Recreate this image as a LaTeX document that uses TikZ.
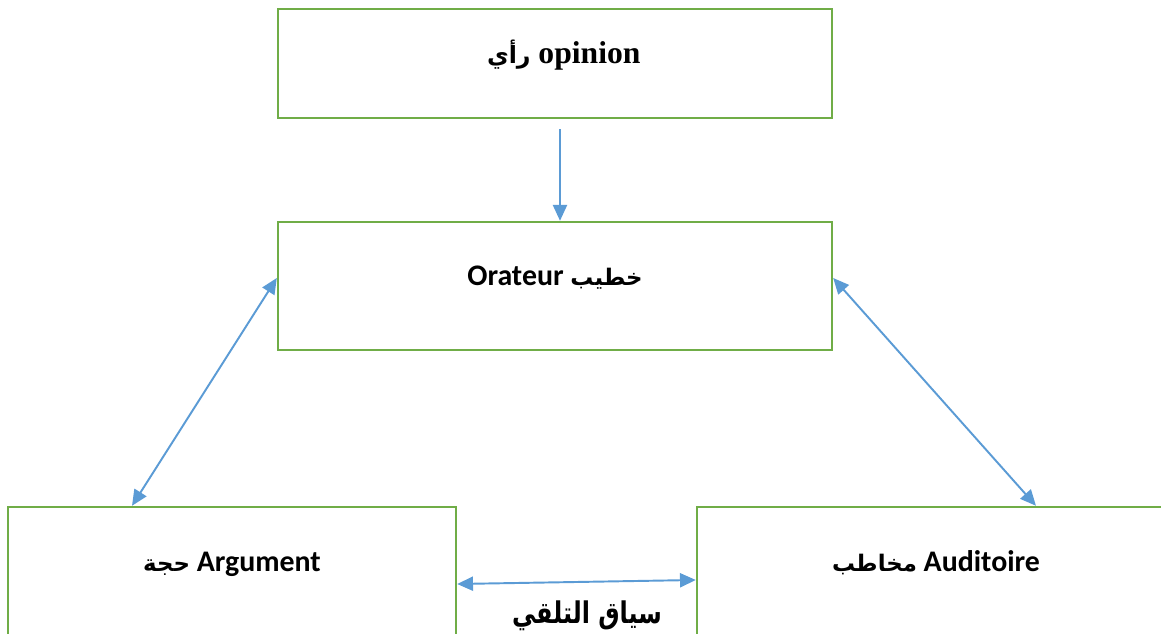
\documentclass[tikz,border=0pt]{standalone}
\usepackage{fontspec}
\setmainfont{Liberation Serif}
\newfontfamily\latinsans{Carlito}
\newfontfamily\arabicfont[Script=Arabic]{DejaVu Sans}
\TeXXeTstate=1
\usetikzlibrary{arrows.meta}
\definecolor{boxgreen}{HTML}{70AD47}
\definecolor{linkblue}{HTML}{5B9BD5}
\newcommand{\ar}[1]{{\arabicfont\fontsize{13}{15}\selectfont\beginR #1\endR}}
\tikzset{>={Triangle[length=9pt,width=8pt]}, % filled tips like the original
box/.style={draw=boxgreen, line width=1.4pt, text height=2mm, text depth=2mm,
    font=\latinsans\bfseries\fontsize{17}{20}\selectfont}, % green framed boxes
link/.style={color=linkblue, line width=1.1pt}, % blue connectors
wide/.style={minimum width=11.08cm}, % the two upper boxes
}

\begin{document}
\begin{tikzpicture}[x=0.02cm, y=-0.02cm]
    \clip (0,0) rectangle (1161,634);
    \node[box, wide, minimum height=2.18cm, font=\rmfamily\bfseries\fontsize{18}{20}\selectfont] (opinion) at (555,63.5)
        {\hspace*{0.35cm}{\arabicfont\fontsize{13.5}{16}\selectfont\beginR رأي\endR} opinion};
    \node[box, wide, minimum height=2.56cm] (orateur) at (555,286) {Orateur \ar{خطيب}};
    \node[box, minimum width=8.96cm, minimum height=2.6cm] (argument) at (232,572) {\ar{حجة} Argument};
    \node[box, minimum width=9.56cm, minimum height=2.6cm] (auditoire) at (936,572) {\ar{مخاطب} Auditoire};
    \node (contexte) at (587,616)
        {\scalebox{0.8}[1]{\arabicfont\bfseries\fontsize{17}{20}\selectfont\beginR سياق التلقي\endR}};
    \draw[link]
    ([xshift=0.1cm, yshift=-0.2cm]opinion.south) edge[->] ([xshift=0.1cm]orateur.north)
    ([yshift=0.16cm]orateur.west) edge[<->] ([xshift=-2cm]argument.north)
    ([yshift=0.16cm]orateur.east) edge[<->] ([xshift=2cm]auditoire.north)
    ([yshift=-0.24cm]argument.east) edge[<->] ([yshift=-0.16cm]auditoire.west)
    ;
\end{tikzpicture}
\end{document}
